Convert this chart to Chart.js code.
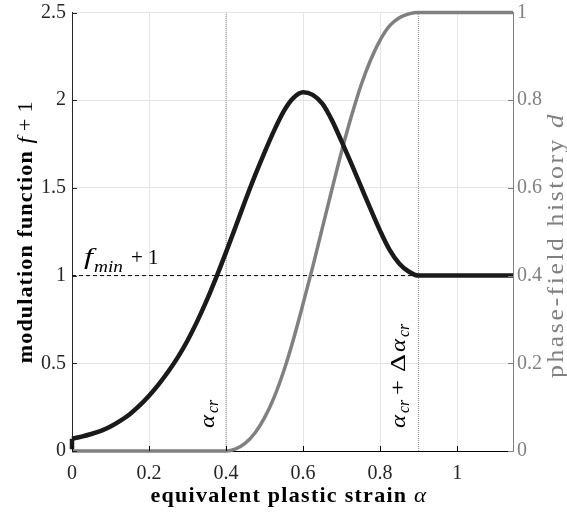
<!DOCTYPE html>
<html><head><meta charset="utf-8">
<script src="https://cdn.jsdelivr.net/npm/chart.js@4/dist/chart.umd.min.js"></script>
<style>html,body{margin:0;padding:0;background:#fff}#wrap{width:567px;height:514px}</style>
</head><body><div id="wrap"><canvas id="c" width="567" height="514"></canvas></div>
<script>
// ---- data ----
const alphaF = [0, 0.025, 0.05, 0.075, 0.1, 0.125, 0.15, 0.175, 0.2, 0.225, 0.25, 0.275, 0.3, 0.325, 0.35, 0.375, 0.4, 0.425, 0.45, 0.475, 0.5, 0.525, 0.55, 0.575, 0.6, 0.625, 0.65, 0.675, 0.7, 0.725, 0.75, 0.775, 0.8, 0.825, 0.85, 0.875, 0.9, 1.0, 1.145];
const fPlus1 = [0.07, 0.082, 0.097, 0.115, 0.14, 0.172, 0.21, 0.258, 0.315, 0.38, 0.453, 0.535, 0.63, 0.739, 0.86, 0.993, 1.134, 1.28, 1.428, 1.57, 1.703, 1.828, 1.938, 2.013, 2.045, 2.03, 1.98, 1.885, 1.765, 1.64, 1.51, 1.38, 1.255, 1.145, 1.068, 1.022, 1.0, 1.0, 1.0];
const fJumpAlpha = [0, 0];
const fJumpValues = [0.01, 0.07];
const alphaD = [0, 0.2, 0.4, 0.425, 0.45, 0.475, 0.5, 0.525, 0.55, 0.575, 0.6, 0.625, 0.65, 0.675, 0.7, 0.725, 0.75, 0.775, 0.8, 0.825, 0.85, 0.875, 0.9, 1.0, 1.145];
const dHistory = [0, 0, 0, 0.005, 0.018, 0.041, 0.076, 0.123, 0.183, 0.255, 0.336, 0.42, 0.509, 0.597, 0.683, 0.762, 0.833, 0.891, 0.937, 0.97, 0.988, 0.997, 1, 1, 1];
const fMinPlus1 = 1;
const alphaCr = 0.4;
const alphaCrPlusDelta = 0.9;
const xRange = [0, 1.145];
const yLeftRange = [0, 2.5];
const yRightRange = [0, 1];
const xTickStep = 0.2, yLeftTickStep = 0.5, yRightTickStep = 0.2;

// ---- build datasets ----
const pts = (xs, ys) => xs.map((x, i) => ({x, y: ys[i]}));

const SERIF = '"Liberation Serif", "DejaVu Serif", serif';
const fmt = v => String(Math.round(v * 1000) / 1000);

// runs: {t, font, dy, tw (target width), at (offset)} or {gap}
function drawRuns(ctx, runs, x, y, rot, align, color, total, sx) {
  sx = sx || 1;
  ctx.save();
  ctx.translate(x, y);
  ctx.rotate(rot);
  ctx.fillStyle = color;
  ctx.textBaseline = 'alphabetic';
  ctx.textAlign = 'left';
  ctx.letterSpacing = '0px';
  let nat = 0, nch = 0;
  runs.forEach(r => {
    if (r.gap !== undefined) { r.w = r.gap; r.k = 1; }
    else { ctx.font = r.font; r.m = ctx.measureText(r.t).width; r.w = r.tw || r.m * sx; r.k = r.w / r.m; nch += r.t.length; }
    nat += r.w;
  });
  const ls = total ? (total - nat) / nch : 0;
  const width = nat + ls * nch;
  let cx = align === 'center' ? -width / 2 : 0;
  const start = cx;
  runs.forEach(r => {
    const px = r.at !== undefined ? start + r.at : cx;
    let w = r.w;
    if (r.gap === undefined) {
      ctx.save();
      ctx.translate(px, r.dy || 0);
      ctx.scale(r.k, 1);
      ctx.font = r.font;
      ctx.letterSpacing = (ls / r.k) + 'px';
      ctx.fillText(r.t, 0, 0);
      ctx.restore();
      w += ls * r.t.length;
    }
    cx = px + w;
  });
  ctx.restore();
}

const decor = {
  id: 'decor',
  afterDraw(chart) {
    const ctx = chart.ctx;
    const xs = chart.scales.x, yl = chart.scales.y, yr = chart.scales.y2;
    const a = chart.chartArea;
    ctx.save();
    // inward tick marks
    ctx.lineWidth = 1;
    ctx.strokeStyle = '#000';
    xs.ticks.forEach(t => { const px = Math.round(xs.getPixelForValue(t.value)) + 0.5; ctx.beginPath(); ctx.moveTo(px, a.bottom); ctx.lineTo(px, a.bottom - 5); ctx.stroke(); });
    ctx.strokeStyle = '#262626';
    yl.ticks.forEach(t => { const py = Math.round(yl.getPixelForValue(t.value)) + 0.5; ctx.beginPath(); ctx.moveTo(a.left, py); ctx.lineTo(a.left + 5, py); ctx.stroke(); });
    ctx.strokeStyle = '#808080';
    yr.ticks.forEach(t => { const py = Math.round(yr.getPixelForValue(t.value)) + 0.5; ctx.beginPath(); ctx.moveTo(a.right, py); ctx.lineTo(a.right - 5, py); ctx.stroke(); });
    ctx.restore();

    const it = s => 'italic ' + s + 'px ' + SERIF;
    const rg = s => s + 'px ' + SERIF;
    const bd = s => 'bold ' + s + 'px ' + SERIF;

    // f_min + 1
    drawRuns(ctx, [
      {t: 'f', font: it(23), tw: 9, at: 2},
      {t: 'min', font: it(17), dy: 8, tw: 29, at: 12},
      {t: '+', font: rg(21), at: 49},
      {t: '1', font: rg(21), at: 66}
    ], xs.getPixelForValue(0) + 10, yl.getPixelForValue(fMinPlus1) - 12, 0, 'left', '#000');

    // alpha_cr
    drawRuns(ctx, [
      {t: 'α', font: it(22), tw: 13, at: 0},
      {t: 'cr', font: it(16), dy: 4, tw: 13, at: 15}
    ], xs.getPixelForValue(alphaCr) - 12.5, yl.getPixelForValue(0) - 23, -Math.PI / 2, 'left', '#000');

    // alpha_cr + Delta alpha_cr
    drawRuns(ctx, [
      {t: 'α', font: it(22), tw: 13, at: 0},
      {t: 'cr', font: it(16), dy: 4, tw: 13, at: 15},
      {t: '+', font: rg(22), tw: 15, at: 33},
      {t: 'Δ', font: rg(22), tw: 18, at: 56},
      {t: 'α', font: it(22), tw: 13, at: 76},
      {t: 'cr', font: it(16), dy: 4, tw: 13, at: 91}
    ], xs.getPixelForValue(alphaCrPlusDelta) - 13.5, yl.getPixelForValue(0) - 23, -Math.PI / 2, 'left', '#000');

    // axis titles
    drawRuns(ctx, [
      {t: 'equivalent plastic strain ', font: bd(21)}, {t: 'α', font: it(22)}
    ], 289, 502, 0, 'center', '#000', 277, 1.05);
    drawRuns(ctx, [
      {t: 'modulation function ', font: bd(21)}, {t: 'f', font: it(22)}, {gap: 5}, {t: '+', font: rg(21)}, {gap: 5}, {t: '1', font: rg(21)}
    ], 32, (a.top + a.bottom) / 2, -Math.PI / 2, 'center', '#000', 263, 1.05);
    drawRuns(ctx, [
      {t: 'phase-field history ', font: rg(23)}, {t: 'd', font: it(24)}
    ], 563, 245, -Math.PI / 2, 'center', '#808080', 266, 1.12);
  }
};

const fixV = w => s => { s.width = w; s.paddingTop = 0; s.paddingBottom = 0; };

new Chart(document.getElementById('c'), {
  type: 'line',
  data: {
    datasets: [
      {label: 'f+1', data: pts(alphaF, fPlus1), yAxisID: 'y', borderColor: '#1a1a1a', borderWidth: 4.5, pointRadius: 0, cubicInterpolationMode: 'monotone', clip: false},
      {label: 'f+1 start', data: pts(fJumpAlpha, fJumpValues), yAxisID: 'y', borderColor: '#1a1a1a', borderWidth: 4.5, pointRadius: 0, tension: 0, clip: false},
      {label: 'd', data: pts(alphaD, dHistory), yAxisID: 'y2', borderColor: '#808080', borderWidth: 3.5, pointRadius: 0, cubicInterpolationMode: 'monotone', clip: false},
      {label: 'fmin', data: pts(xRange, [fMinPlus1, fMinPlus1]), yAxisID: 'y', borderColor: '#000', borderWidth: 1, borderDash: [4, 3], pointRadius: 0, tension: 0},
      {label: 'acr', data: pts([alphaCr, alphaCr], yLeftRange), yAxisID: 'y', borderColor: '#8c8c8c', borderWidth: 1, borderDash: [1, 1], pointRadius: 0, tension: 0},
      {label: 'acr+d', data: pts([alphaCrPlusDelta, alphaCrPlusDelta], yLeftRange), yAxisID: 'y', borderColor: '#8c8c8c', borderWidth: 1, borderDash: [1, 1], pointRadius: 0, tension: 0}
    ]
  },
  options: {
    responsive: false,
    animation: false,
    events: [],
    layout: {padding: {top: 12.5, left: 0, right: 0, bottom: 0}},
    plugins: {legend: {display: false}, tooltip: {enabled: false}},
    scales: {
      x: {
        type: 'linear', min: xRange[0], max: xRange[1],
        afterFit: s => { s.height = 63; s.paddingLeft = 0; s.paddingRight = 0; },
        grid: {color: '#e5e5e5', drawTicks: false},
        border: {color: '#000', width: 1},
        ticks: {stepSize: xTickStep, includeBounds: false, padding: 11, color: '#262626', font: {family: SERIF, size: 20}, callback: v => fmt(v), maxRotation: 0}
      },
      y: {
        type: 'linear', position: 'left', min: yLeftRange[0], max: yLeftRange[1],
        afterFit: fixV(72),
        grid: {color: '#e5e5e5', drawTicks: false},
        border: {color: '#262626', width: 1},
        ticks: {stepSize: yLeftTickStep, padding: 6, color: '#262626', font: {family: SERIF, size: 20}, callback: v => fmt(v)}
      },
      y2: {
        type: 'linear', position: 'right', min: yRightRange[0], max: yRightRange[1],
        afterFit: fixV(54),
        grid: {drawOnChartArea: false, drawTicks: false},
        border: {color: '#808080', width: 1},
        ticks: {stepSize: yRightTickStep, padding: 4, color: '#808080', font: {family: SERIF, size: 20}, callback: v => fmt(v)}
      }
    }
  },
  plugins: [decor]
});
</script></body></html>
